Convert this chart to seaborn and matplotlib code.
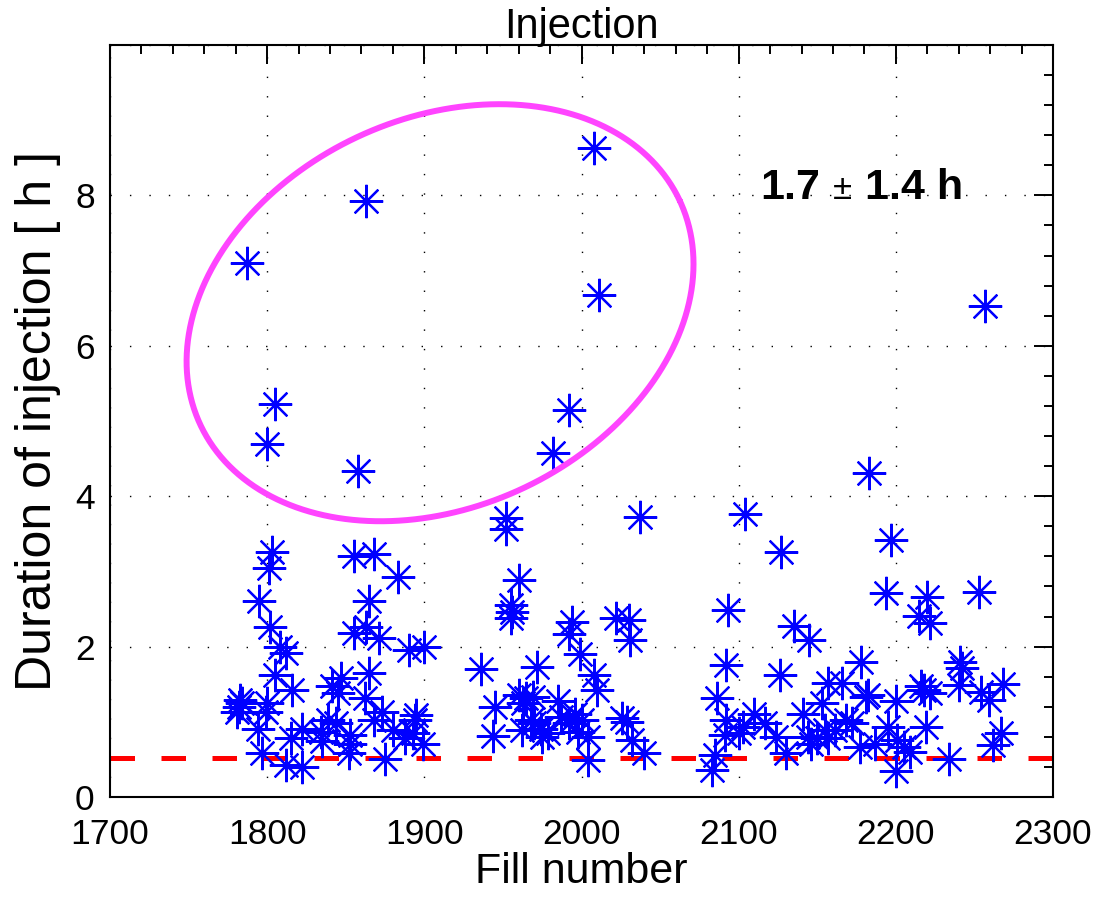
import numpy as np
import pandas as pd
import matplotlib
matplotlib.use("Agg")
import matplotlib.pyplot as plt
import seaborn as sns
from matplotlib.ticker import MultipleLocator
from matplotlib.offsetbox import TextArea, HPacker, AnnotationBbox

# ---------------- data ----------------
fill_number = [
    1803, 1801, 1795, 1802, 1808, 1812, 1805, 1816, 1783, 1784, 1782, 1781, 1800, 1799,
    1794, 1797, 1822, 1815, 1812, 1822,
    1855, 1868, 1883, 1865, 1855, 1863, 1871, 1890, 1900, 1865, 1847, 1841, 1862, 1845,
    1873, 1868, 1839, 1844, 1834, 1853, 1835, 1852, 1875, 1880, 1888, 1894, 1895, 1899,
    1893, 1853,
    1952, 1952, 1960, 1955, 1956, 1955, 1936, 1972, 1994, 1992, 1999, 2008, 2010, 1945,
    1944, 1960, 1965, 1969, 1962, 1970, 1975, 1985, 1992, 1998, 2004, 1996, 2004, 1979,
    1963, 1974, 1968, 2000, 1987,
    2037, 2022, 2030, 2031, 2026, 2029, 2032, 2040, 2093, 2092, 2086, 2092, 2091, 2085,
    2083, 2103, 2100, 2104,
    2127, 2135, 2145, 2126, 2110, 2117, 2124, 2130, 2141, 2144, 2150, 2153, 2157, 2166,
    2157, 2161, 2172, 2178, 2181, 2182, 2177, 2187, 2195, 2197, 2194, 2146, 2155, 2168,
    2220, 2215, 2222, 2253, 2241, 2242, 2240, 2218, 2222, 2216, 2200, 2259, 2254, 2268,
    2219, 2201, 2209, 2200, 2234, 2267, 2262, 2205,
    1787, 1863, 2008, 2011, 1805, 1800, 1858, 1992, 1982, 2257, 2183,
]
duration_h = [
    3.26, 3.04, 2.61, 2.26, 2.00, 1.91, 1.62, 1.42, 1.29, 1.25, 1.20, 1.13, 1.25, 1.13,
    0.91, 0.58, 0.91, 0.78, 0.43, 0.40,
    3.20, 3.23, 2.92, 2.61, 2.18, 2.26, 2.11, 1.96, 1.99, 1.65, 1.58, 1.47, 1.31, 1.38,
    1.13, 1.02, 1.02, 0.98, 0.87, 0.82, 0.74, 0.58, 0.51, 0.89, 0.78, 1.02, 1.09, 0.71,
    0.85, 0.71,
    3.71, 3.57, 2.89, 2.55, 2.46, 2.38, 1.70, 1.73, 2.33, 2.17, 1.90, 1.62, 1.42, 1.20,
    0.81, 1.36, 1.31, 1.33, 0.89, 0.98, 0.80, 1.27, 0.98, 0.87, 0.80, 1.11, 0.49, 0.85,
    1.25, 0.91, 1.02, 1.02, 1.07,
    3.73, 2.38, 2.35, 2.09, 1.05, 1.00, 0.76, 0.58, 2.49, 1.75, 1.31, 1.02, 0.82, 0.56,
    0.36, 0.93, 0.85, 3.76,
    3.26, 2.27, 2.09, 1.62, 1.11, 0.98, 0.80, 0.58, 1.11, 0.80, 0.78, 1.25, 1.51, 1.51,
    0.78, 0.89, 0.98, 1.80, 1.33, 1.36, 0.67, 0.71, 0.93, 3.42, 2.71, 0.71, 0.89, 1.02,
    2.66, 2.41, 2.31, 2.72, 1.80, 1.71, 1.49, 1.42, 1.38, 1.47, 1.28, 1.29, 1.40, 1.50,
    0.93, 0.76, 0.60, 0.34, 0.51, 0.85, 0.69, 0.67,
    7.10, 7.92, 8.63, 6.68, 5.23, 4.70, 4.34, 5.14, 4.57, 6.53, 4.31,
]
threshold_h = 0.52
x_ticks = [1700, 1800, 1900, 2000, 2100, 2200, 2300]
y_ticks = [0, 2, 4, 6, 8, 10]
y_tick_labels = ["0", "2", "4", "6", "8", ""]
title = "Injection"
x_label = "Fill number"
y_label = "Duration of injection [ h ]"
stat_mean, stat_sigma, stat_unit = "1.7", "1.4", "h"

# ---------------- figure ----------------
sns.set_theme(style="white")
plt.rcParams["font.family"] = ["Liberation Sans", "DejaVu Sans"]

W, H = 1104, 905
fig = plt.figure(figsize=(W / 100, H / 100), dpi=100)
ax_left, ax_right, ax_top, ax_bottom = 110, 1053, 45, 797
ax = fig.add_axes([ax_left / W, 1 - ax_bottom / H,
                   (ax_right - ax_left) / W, (ax_bottom - ax_top) / H])

df = pd.DataFrame({"fill": fill_number, "dur": duration_h})

ax.axhline(threshold_h, color="#ff0000", lw=3.6, dashes=(4.9, 5.3), zorder=1)

sns.lineplot(data=df, x="fill", y="dur", estimator=None, linestyle="",
             marker=(8, 2, 0), markersize=24, markeredgewidth=1.6,
             markeredgecolor="#0000ff", color="#0000ff", ax=ax, zorder=3)

ax.set_xlim(x_ticks[0], x_ticks[-1])
ax.set_ylim(y_ticks[0], y_ticks[-1])
ax.set_xticks(x_ticks)
ax.set_xticklabels([str(t) for t in x_ticks])
ax.set_yticks(y_ticks)
ax.set_yticklabels(y_tick_labels)
ax.xaxis.set_minor_locator(MultipleLocator(20))
ax.yaxis.set_minor_locator(MultipleLocator(0.4))
ax.tick_params(which="both", direction="in", top=True, right=True,
               color="black", width=1.4, labelsize=25.5, labelcolor="black")
ax.tick_params(which="major", length=13.7)
ax.tick_params(which="minor", length=6.5)
ax.tick_params(axis="x", which="major", pad=15)
ax.tick_params(axis="y", which="major", pad=11)
ax.grid(True, which="major", color="black", linestyle=(0, (1, 13)), linewidth=1.0)
for s in ax.spines.values():
    s.set_visible(True)
    s.set_color("black")
    s.set_linewidth(1.5)

ax.set_title(title, fontsize=30, pad=5, color="black")
ax.set_xlabel(x_label, fontsize=31, labelpad=1, color="black")
ax.set_ylabel(y_label, fontsize=36, labelpad=10, color="black")

# highlight ellipse (drawn in screen proportions, converted to data units)
kx = (ax_right - ax_left) / (x_ticks[-1] - x_ticks[0])
ky = (ax_bottom - ax_top) / (y_ticks[-1] - y_ticks[0])
e_cx, e_cy, e_a, e_b, e_ang = 1910, 6.44, 264.6, 194.2, np.deg2rad(25)
t = np.linspace(0, 2 * np.pi, 400)
ex = e_cx + (e_a * np.cos(t) * np.cos(e_ang) - e_b * np.sin(t) * np.sin(e_ang)) / kx
ey = e_cy + (e_a * np.cos(t) * np.sin(e_ang) + e_b * np.sin(t) * np.cos(e_ang)) / ky
ax.plot(ex, ey, color="#ff44ff", lw=4.3, zorder=4, solid_capstyle="round")

# statistics text
parts = [
    TextArea(stat_mean, textprops=dict(fontsize=31, fontweight="bold", color="black")),
    TextArea("±", textprops=dict(fontsize=25, color="black")),
    TextArea(f"{stat_sigma} {stat_unit}", textprops=dict(fontsize=31, fontweight="bold", color="black")),
]
box = HPacker(children=parts, align="baseline", pad=0, sep=9)
ab = AnnotationBbox(box, (2114, 8.1), xycoords="data", box_alignment=(0, 0.5),
                    frameon=False, pad=0)
ax.add_artist(ab)

fig.savefig("out.png", dpi=100)
